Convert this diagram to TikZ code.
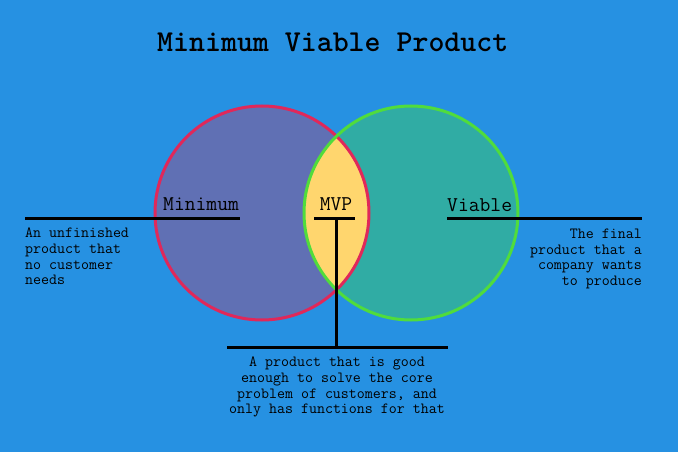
\documentclass[tikz,border=0pt]{standalone}
\definecolor{bgblue}{RGB}{38,145,226}
\definecolor{minfill}{RGB}{96,112,180}
\definecolor{viafill}{RGB}{48,172,164}
\definecolor{lensfill}{RGB}{255,214,110}
\definecolor{redline}{RGB}{224,40,90}
\definecolor{greenline}{RGB}{80,220,60}
\tikzset{
  lbl/.style={font=\ttfamily\fontsize{21}{21}\selectfont, inner sep=0pt, text=black},
  desc/.style={font=\ttfamily\fontsize{15.5}{15.6}\selectfont, inner sep=0pt, text=black},
  ttl/.style={font=\ttfamily\bfseries\fontsize{30.4}{30.4}\selectfont, inner sep=0pt, text=black},
  rule/.style={draw=black, line width=3pt},
}
\begin{document}
\begin{tikzpicture}[x=1pt,y=-1pt]
\useasboundingbox (0,0) rectangle (678,452);
\fill[bgblue] (0,0) rectangle (678,452);
% circles
\coordinate (cl) at (262,213);
\coordinate (cr) at (411,213);
\fill[minfill] (cl) circle[radius=107];
\fill[viafill] (cr) circle[radius=107];
\begin{scope}
  \clip (cl) circle[radius=107];
  \fill[lensfill] (cr) circle[radius=107];
\end{scope}
\draw[redline, line width=3pt] (cl) circle[radius=107];
\draw[greenline, line width=3pt] (cr) circle[radius=107];
% title
\node[ttl, anchor=base west] (title) at (157,52) {Minimum Viable Product};
% labels
\node[lbl, anchor=base west] (minimum) at (163,210) {Minimum};
\node[lbl, anchor=base west] (viable) at (447,211) {Viable};
\node[lbl, anchor=base] (mvp) at (336,210) {MVP};
% rules
\coordinate (l1) at (25,218);
\coordinate (l2) at (240,218);
\coordinate (r1) at (447,218);
\coordinate (r2) at (642,218);
\coordinate (m1) at (314,218);
\coordinate (m2) at (355,218);
\coordinate (mtop) at (336,218);
\coordinate (mbot) at (336,347);
\coordinate (b1) at (227,347);
\coordinate (b2) at (448,347);
\draw[rule] (l1) -- (l2);
\draw[rule] (r1) -- (r2);
\draw[rule] (m1) -- (m2);
\draw[rule] (mtop) -- (mbot);
\draw[rule] (b1) -- (b2);
% descriptions
\node[desc, anchor=north west, align=left] (ldesc) at (25,228)
  {An unfinished\\product that\\no customer\\needs};
\node[desc, anchor=north east, align=right] (rdesc) at (642,229)
  {The final\\product that a\\company wants\\to produce};
\node[desc, anchor=north, align=center] (bdesc) at (337,357)
  {A product that is good\\enough to solve the core\\problem of customers, and\\only has functions for that};
\end{tikzpicture}
\end{document}
